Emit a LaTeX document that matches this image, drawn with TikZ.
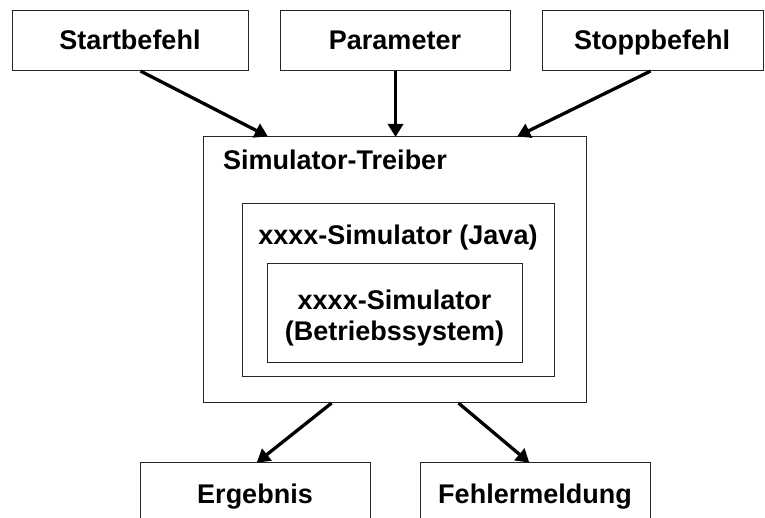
\documentclass[tikz,border=0pt]{standalone}
\usepackage{fontspec}
\setmainfont{Liberation Sans}
\usetikzlibrary{arrows.meta,calc}
\begin{document}
\begin{tikzpicture}[x=1pt,y=-1pt,
  box/.style={draw=black!85,line width=1.1pt,inner sep=0pt},
  lbl/.style={font=\fontsize{27}{31}\selectfont\bfseries,inner sep=0pt,anchor=base},
  arr/.style={line width=3.3pt,-{Triangle[length=13pt,width=15pt]},shorten >=-1pt}]
\useasboundingbox (0,0) rectangle (765,518);
\clip (0,0) rectangle (765,518);
% boxes
\node[box,minimum width=236pt,minimum height=60pt,anchor=north west] (start) at (12,10) {};
\node[box,minimum width=230pt,minimum height=60pt,anchor=north west] (param) at (280,10) {};
\node[box,minimum width=221pt,minimum height=60pt,anchor=north west] (stop) at (542,10) {};
\node[box,minimum width=383pt,minimum height=266pt,anchor=north west] (driver) at (203,136) {};
\node[box,minimum width=312pt,minimum height=173pt,anchor=north west] (java) at (242,203) {};
\node[box,minimum width=255pt,minimum height=99pt,anchor=north west] (os) at (267,263) {};
\node[box,minimum width=230pt,minimum height=70pt,anchor=north west] (erg) at (140,462) {};
\node[box,minimum width=230pt,minimum height=70pt,anchor=north west] (fehl) at (420,462) {};
% texts
\node[lbl] (tstart) at (130,50) {Startbefehl};
\node[lbl] (tparam) at (395,50) {Parameter};
\node[lbl] (tstop) at (652,50) {Stoppbefehl};
\node[lbl,anchor=base west] (tdriver) at (223,170) {Simulator-Treiber};
\node[lbl] (tjava) at (398,245) {xxxx-Simulator (Java)};
\node[lbl] (tos1) at (394.5,309) {xxxx-Simulator};
\node[lbl] (tos2) at (394.5,340) {(Betriebssystem)};
\node[lbl] (terg) at (255,503) {Ergebnis};
\node[lbl] (tfehl) at (535,503) {Fehlermeldung};
% arrows
\draw[arr] ([xshift=10pt]start.south) -- ([xshift=64pt]driver.north west);
\draw[arr] (param.south) -- (param.south |- driver.north);
\draw[arr] ([xshift=-2.5pt]stop.south) -- ([xshift=-69pt]driver.north east);
\draw[arr] ([xshift=-63.5pt]driver.south) -- ([xshift=2pt]erg.north);
\draw[arr] ([xshift=63.5pt]driver.south) -- ([xshift=-7pt]fehl.north);
\end{tikzpicture}
\end{document}
